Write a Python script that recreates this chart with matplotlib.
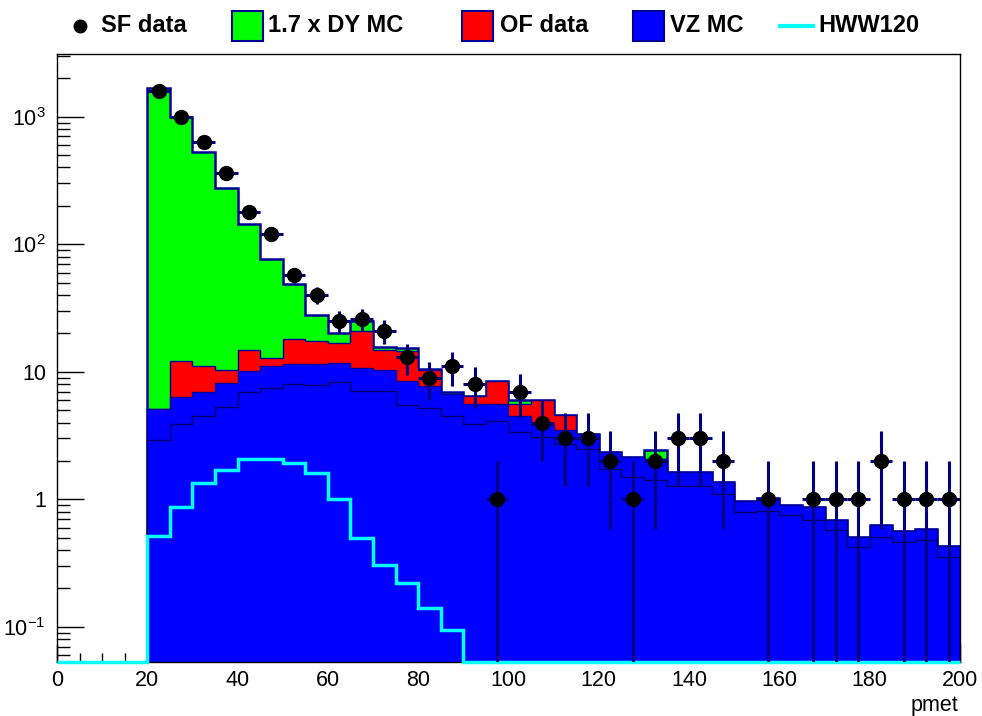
import numpy as np
import matplotlib
matplotlib.use('Agg')
import matplotlib.pyplot as plt
from matplotlib.patches import Rectangle
from matplotlib.lines import Line2D
from matplotlib.ticker import FixedLocator, FixedFormatter, LogLocator, MultipleLocator, NullFormatter

plt.rcParams['font.family'] = ['Liberation Sans', 'DejaVu Sans']
plt.rcParams['mathtext.fontset'] = 'custom'
plt.rcParams['mathtext.rm'] = 'Liberation Sans'
plt.rcParams['mathtext.it'] = 'Liberation Sans:italic'
plt.rcParams['mathtext.bf'] = 'Liberation Sans:bold'

# pmet bins: 5 GeV wide from 20 to 200
bin_lo = 20
bin_hi = 200
bin_w = 5

sf_data = [1600, 1000, 630, 360, 180, 120, 57, 40, 25, 26, 21, 13, 9, 11, 8, 1,
           7, 4, 3, 3, 2, 1, 2, 3, 3, 2, 0, 1, 0, 1, 1, 1, 2, 1, 1, 1]

# stacked backgrounds, bottom to top
vz_a = [2.94, 3.9, 4.5, 5.3, 6.9, 7.4, 8.0, 7.9, 8.3, 7.1, 7.1, 5.5, 5.2, 4.5,
        3.9, 4.1, 3.36, 3.07, 2.7, 2.49, 1.74, 1.5, 1.41, 1.26, 1.26, 1.11,
        0.80, 0.81, 0.75, 0.69, 0.57, 0.42, 0.51, 0.46, 0.48, 0.35]
vz_b = [2.16, 2.4, 2.5, 2.9, 3.2, 3.7, 3.6, 3.5, 3.5, 3.6, 3.3, 3.0, 2.6, 2.2,
        1.7, 1.5, 1.14, 0.73, 0.8, 0.77, 0.6, 0.64, 0.67, 0.37, 0.37, 0.26,
        0.17, 0.22, 0.15, 0.18, 0.12, 0.09, 0.12, 0.10, 0.10, 0.08]
of_data = [0, 5.9, 4.0, 2.1, 4.7, 1.8, 6.4, 5.9, 5.1, 10.2, 4.4, 6.0, 2.5, 0,
           0.9, 2.9, 1.1, 2.2, 1.1] + [0] * 17
dy_mc = [1659, 988, 515, 265, 130, 63, 31, 10.7, 3.4, 4.1, 0.9, 0.8, 0.2, 0.3,
         0, 0, 0.4, 0, 0, 0, 0, 0, 0.36] + [0] * 13

hww120 = [0.52, 0.87, 1.35, 1.69, 2.08, 2.08, 1.92, 1.60, 1.0, 0.50, 0.305,
          0.22, 0.14, 0.095] + [0] * 22

ymin, ymax = 0.053, 3100

edges = np.arange(bin_lo, bin_hi + bin_w, bin_w)
centers = edges[:-1] + bin_w / 2

c1 = np.array(vz_a)
c2 = c1 + np.array(vz_b)
c3 = c2 + np.array(of_data)
c4 = c3 + np.array(dy_mc)

W, H = 982, 716
fig = plt.figure(figsize=(W / 100, H / 100), dpi=100)
ax = fig.add_axes([57 / W, 1 - 662 / H, (960 - 57) / W, (662 - 54) / H])

navy = '#000099'
ax.stairs(c4, edges, baseline=1e-4, fill=True, facecolor='#00ff00', edgecolor=navy, lw=1.8, zorder=1)
ax.stairs(c3, edges, baseline=1e-4, fill=True, facecolor='#ff0000', edgecolor=navy, lw=1.0, zorder=1.1)
ax.stairs(c2, edges, baseline=1e-4, fill=True, facecolor='#0000ff', edgecolor=navy, lw=1.0, zorder=1.2)
ax.stairs(c1, edges, baseline=1e-4, fill=True, facecolor='#0000ff', edgecolor='#000066', lw=1.0, zorder=1.3)

# signal line, drawn over the full range with empty bins on the floor
edges_full = np.arange(0, bin_hi + bin_w, bin_w)
hww_full = np.concatenate([np.zeros(bin_lo // bin_w), hww120])
ax.stairs(np.where(hww_full > 0, hww_full, ymin), edges_full, baseline=None,
          color='#00ffff', lw=2.5, zorder=3, clip_on=False)

# data with poisson errors
n = np.array(sf_data, dtype=float)
m = n > 0
err = np.sqrt(n[m])
lo = np.minimum(err, n[m] - 1e-4)
ax.errorbar(centers[m], n[m], xerr=bin_w / 2, yerr=[lo, err], fmt='o',
            color='black', ecolor='#000080', elinewidth=2.2, markersize=10,
            capsize=0, zorder=5)

ax.set_yscale('log')
ax.set_xlim(0, 200)
ax.set_ylim(ymin, ymax)
ax.set_axisbelow(True)

ax.yaxis.set_major_locator(FixedLocator([0.1, 1, 10, 100, 1000]))
ax.yaxis.set_major_formatter(FixedFormatter([r'$10^{-1}$', '1', '10', r'$10^{2}$', r'$10^{3}$']))
ax.yaxis.set_minor_locator(LogLocator(base=10, subs=np.arange(2, 10)))
ax.yaxis.set_minor_formatter(NullFormatter())
ax.xaxis.set_major_locator(MultipleLocator(20))
ax.xaxis.set_minor_locator(MultipleLocator(5))

ax.tick_params(axis='y', which='major', direction='in', length=19.5, width=1, labelsize=15.5, pad=8)
ax.tick_params(axis='y', which='minor', direction='in', length=9.7, width=1)
ax.tick_params(axis='x', which='major', direction='in', length=13, width=1, labelsize=15.5, pad=6)
ax.tick_params(axis='x', which='minor', direction='in', length=6.5, width=1)
ax.tick_params(top=False, right=False, which='both')
for s in ax.spines.values():
    s.set_linewidth(1.0)

fig.text(958 / W, 1 - 705 / H, 'pmet', ha='right', va='center', fontsize=15.5)

# legend row above the frame
ly = 1 - 26 / H
bh = 29 / H
fig.add_artist(Line2D([80 / W], [ly], marker='o', color='black', markersize=9,
                      transform=fig.transFigure))
entries = [
    (232, '#00ff00', 'box', 268, '1.7 x DY MC'),
    (462, '#ff0000', 'box', 500, 'OF data'),
    (633, '#0000ff', 'box', 670, 'VZ MC'),
    (780, '#00ffff', 'line', 818, 'HWW120'),
]
fig.text(101 / W, ly, 'SF data', fontsize=17, fontweight='bold', va='center')
for x0, col, kind, tx, label in entries:
    if kind == 'box':
        fig.add_artist(Rectangle((x0 / W, ly - bh / 2), 31 / W, bh, facecolor=col,
                                 edgecolor=navy, lw=1.5, transform=fig.transFigure))
    else:
        fig.add_artist(Line2D([x0 / W, (x0 + 33) / W], [ly, ly], color=col, lw=3,
                              transform=fig.transFigure))
    fig.text(tx / W, ly, label, fontsize=17, fontweight='bold', va='center')

fig.savefig('out.png', dpi=100)
